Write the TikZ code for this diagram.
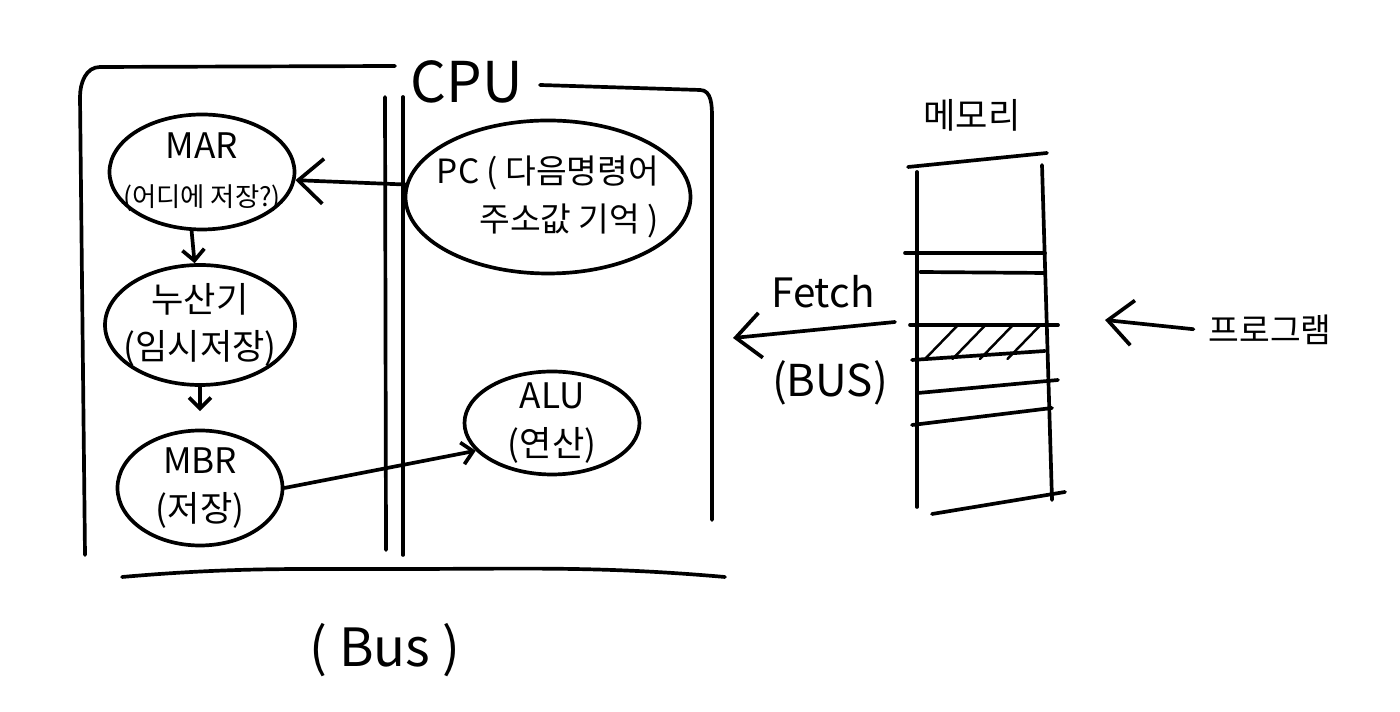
\documentclass[tikz,border=0pt]{standalone}
\usepackage{fontspec}
\setmainfont{Noto Sans CJK KR}
\usetikzlibrary{
	arrows.meta,
	positioning,
	shapes.geometric
}

\begin{document}
\begin{tikzpicture}[
		line width=2.1pt, line cap=round, line join=round,
		reg/.style={draw, ellipse, inner sep=0pt},
		txt/.style={align=center, font=\fontsize{20}{27}\selectfont},
		smalltip/.style={-{Straight Barb[length=2.2mm,width=4.4mm]}},
		bigtip/.style={-{Straight Barb[length=5mm,width=9mm]}}
	]
		\useasboundingbox (0,0) rectangle (28,14.24);
		% CPU frame
		\draw (7.9,12.92) -- (2.0,12.9) to[out=180,in=90] (1.6,12.3) -- (1.7,3.14);
		\draw (10.8,12.54) -- (14.0,12.44) to[out=0,in=90] (14.24,11.9) -- (14.24,3.84);
		\node[font=\fontsize{32}{36}\selectfont] (cpu) at (9.34,12.6) {CPU};
		\draw (7.7,12.3) -- (7.72,3.24);
		\draw (8.06,12.3) -- (8.06,3.14);
		% registers
		\node[reg, minimum width=3.7cm, minimum height=2.3cm] (mar) at (4.04,10.8) {};
		\node[txt] (mar-t) at (mar) {MAR\\{\fontsize{15}{27}\selectfont (어디에 저장?)}};
		\node[reg, minimum width=3.8cm, minimum height=2.4cm] (acc) at (4.0,7.74) {};
		\node[txt] (acc-t) at (acc) {누산기\\(임시저장)};
		\node[reg, minimum width=3.3cm, minimum height=2.3cm] (mbr) at (4.0,4.48) {};
		\node[txt] (mbr-t) at (mbr) {MBR\\(저장)};
		\node[reg, minimum width=5.7cm, minimum height=3.06cm] (pc) at (10.96,10.3) {};
		\node[txt, align=right, font=\fontsize{19}{27}\selectfont] (pc-t) at (pc) {PC ( 다음명령어\\주소값 기억 )};
		\node[reg, minimum width=3.5cm, minimum height=2.06cm] (alu) at (11.04,5.78) {};
		\node[txt] (alu-t) at (alu) {ALU\\(연산)};
		\draw[bigtip] (pc.175) -- (mar.-5);
		\draw[smalltip] (mar.260) -- (acc.95);
		\draw[smalltip, shorten >=0.35cm] (acc.south) -- (mbr.north);
		\draw[smalltip] (mbr.east) -- (alu.200);
		% Bus
		\draw (2.44,2.7) to[out=5,in=180] (8.0,2.86) to[out=0,in=175] (14.5,2.7);
		\node[font=\fontsize{30}{34}\selectfont] (bus) at (7.7,1.24) {( Bus )};
		% memory
		\node[font=\fontsize{20}{24}\selectfont] (mem) at (19.44,11.94) {메모리};
		\draw (18.16,10.9) -- (20.94,11.18);
		\draw (18.34,10.8) -- (18.34,4.1);
		\draw (20.84,10.94) -- (21.04,4.24);
		\foreach \xa/\ya/\xb/\yb in {18.1/9.18/20.9/9.18, 18.4/8.8/20.9/8.78, 18.2/7.74/21.16/7.74,
			18.24/7.04/20.9/7.22, 18.36/6.38/21.16/6.64, 18.24/5.74/21.04/6.08, 18.64/3.96/21.3/4.4}
			\draw (\xa,\ya) -- (\xb,\yb);
		\foreach \dx in {0,0.55,1.1,1.65}
			\draw[line width=1.4pt] (18.5+\dx,7.06) -- (19.16+\dx,7.74);
		% fetch and program
		\coordinate (fetchS) at (17.9,7.8);
		\coordinate (fetchE) at (14.66,7.48);
		\draw[bigtip] (fetchS) -- (fetchE);
		\node[font=\fontsize{23}{26}\selectfont] (fetch) at (16.46,8.4) {Fetch};
		\node[font=\fontsize{25}{28}\selectfont] (fetch-b) at (16.6,6.58) {(BUS)};
		\node[font=\fontsize{19}{22}\selectfont] (prog) at (25.4,7.64) {프로그램};
		\coordinate (progE) at (22.1,7.84);
		\draw[bigtip, shorten <=0.15cm] (prog.west) -- (progE);
	\end{tikzpicture}
\end{document}
